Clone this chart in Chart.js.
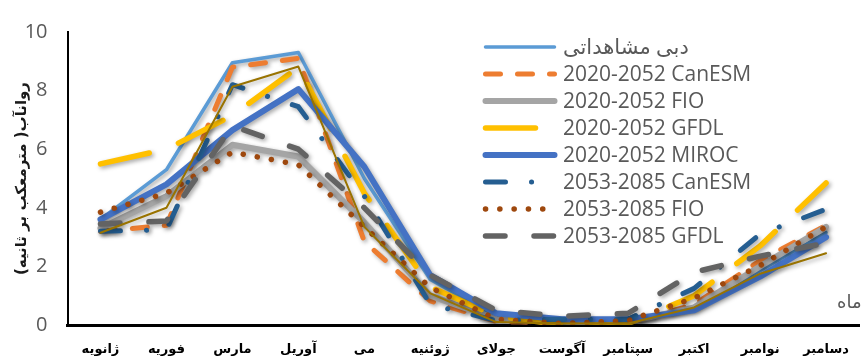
<!DOCTYPE html>
<html><head><meta charset="utf-8">
<script src="https://cdn.jsdelivr.net/npm/chart.js@4"></script>
<style>html,body{margin:0;padding:0;overflow:hidden;background:#fff}#wrap{width:866px;height:360px;position:relative}</style>
</head><body><div id="wrap"><canvas id="c"></canvas></div>
<script>
const months = ['ژانویه','فوریه','مارس','آوریل','می','ژوئنیه','جولای','آگوست','سپتامبر','اکتبر','نوامبر','دسامبر'];
const seriesNames = ['دبی مشاهداتی','2020-2052 CanESM','2020-2052 FIO','2020-2052 GFDL','2020-2052 MIROC','2053-2085 CanESM','2053-2085 FIO','2053-2085 GFDL','2053-2085 MIROC'];
const observed   = [3.6, 5.3, 8.95, 9.3, 5.0, 1.55, 0.3, 0.15, 0.15, 0.6, 1.85, 3.15];
const canesm2020 = [3.2, 3.4, 8.8, 9.1, 2.85, 0.82, 0.12, 0.05, 0.05, 0.7, 2.2, 3.4];
const fio2020    = [3.3, 4.4, 6.15, 5.75, 3.5, 1.0, 0.2, 0.1, 0.1, 0.6, 2.0, 3.35];
const gfdl2020   = [5.5, 6.0, 7.15, 8.8, 4.5, 1.3, 0.3, 0.0, 0.05, 1.0, 2.7, 4.85];
const miroc2020  = [3.6, 4.8, 6.65, 8.05, 5.4, 1.7, 0.4, 0.2, 0.2, 0.5, 1.65, 3.0];
const canesm2053 = [3.2, 3.25, 8.2, 7.45, 4.4, 0.7, 0.15, 0.2, 0.2, 1.25, 3.1, 3.95];
const fio2053    = [3.85, 4.5, 5.9, 5.47, 3.35, 1.28, 0.2, 0.05, 0.15, 0.92, 2.03, 3.35];
const gfdl2053   = [3.45, 3.55, 6.8, 6.0, 4.0, 1.7, 0.5, 0.3, 0.4, 1.8, 2.35, 2.8];
const miroc2053  = [3.15, 4.0, 8.13, 8.82, 3.35, 1.08, 0.1, 0.05, 0.05, 0.6, 1.75, 2.45];
const yMin = 0, yMax = 10, yStep = 2;
const yTitle = 'روانآب( مترمعکب بر ثانیه)';
const xTitle = 'ماه';

const allSeries = [observed, canesm2020, fio2020, gfdl2020, miroc2020, canesm2053, fio2053, gfdl2053, miroc2053];
const styles = [
  {c:'#5B9BD5', w:3.5, d:[]},
  {c:'#ED7D31', w:5,   d:[15,17]},
  {c:'#A5A5A5', w:6,   d:[]},
  {c:'#FFC000', w:5.5, d:[50,31]},
  {c:'#4472C4', w:6,   d:[]},
  {c:'#255E91', w:5,   d:[20,26,0.1,26]},
  {c:'#9E480E', w:5.5, d:[0.1,14.2]},
  {c:'#636363', w:5.5, d:[19.5,29]},
  {c:'#997300', w:2,   d:[]}
];
const LEGEND_COUNT = 8;

const datasets = allSeries.map((data, i) => ({
  label: seriesNames[i],
  data: data,
  borderColor: styles[i].c,
  backgroundColor: styles[i].c,
  borderWidth: styles[i].w,
  borderDash: styles[i].d,
  borderCapStyle: 'round',
  borderJoinStyle: 'round',
  pointRadius: 0,
  pointHoverRadius: 0,
  tension: 0,
  fill: false,
  order: -i
}));

const shadowPlugin = {
  id: 'shadow',
  beforeDatasetDraw(chart) {
    const ctx = chart.ctx;
    ctx.save();
    ctx.shadowColor = 'rgba(0,0,0,0.35)';
    ctx.shadowBlur = 4;
    ctx.shadowOffsetX = 2;
    ctx.shadowOffsetY = 2;
  },
  afterDatasetDraw(chart) { chart.ctx.restore(); }
};

const legendPlugin = {
  id: 'customLegend',
  afterDraw(chart) {
    const ctx = chart.ctx;
    const x0 = 485.5, x1 = 554.5, tx = 563, y0 = 47, dy = 27;
    chart.data.datasets.forEach((ds, i) => {
      if (i >= LEGEND_COUNT) return;
      const y = y0 + i * dy;
      ctx.save();
      ctx.strokeStyle = ds.borderColor;
      ctx.lineWidth = ds.borderWidth;
      ctx.lineCap = 'round';
      ctx.setLineDash(ds.borderDash || []);
      ctx.beginPath(); ctx.moveTo(x0, y); ctx.lineTo(x1, y); ctx.stroke();
      ctx.restore();
      ctx.save();
      ctx.fillStyle = '#595959';
      ctx.font = '21px "Open Sans", "DejaVu Sans", sans-serif';
      ctx.textBaseline = 'middle';
      ctx.textAlign = 'left';
      ctx.fillText(ds.label, tx, y + 1);
      ctx.restore();
    });
    // x axis title
    const a = chart.chartArea;
    ctx.save();
    ctx.fillStyle = '#595959';
    ctx.font = '18px "DejaVu Sans", sans-serif';
    ctx.textBaseline = 'middle';
    ctx.textAlign = 'left';
    ctx.fillText(xTitle, a.right - 22, a.bottom - 22);
    ctx.restore();
  }
};

new Chart(document.getElementById('c'), {
  type: 'line',
  data: { labels: months, datasets: datasets },
  options: {
    responsive: true,
    maintainAspectRatio: false,
    animation: false,
    events: [],
    layout: { padding: { top: 20, right: 1, left: 0, bottom: 0 } },
    plugins: { legend: { display: false }, tooltip: { enabled: false } },
    scales: {
      x: {
        offset: true,
        grid: { display: false, drawTicks: false },
        border: { display: true, color: '#000', width: 3 },
        ticks: { color: '#000', padding: 17, maxRotation: 0, autoSkip: false,
          font: { family: '"DejaVu Sans", sans-serif', size: 13, weight: 'bold' } },
        afterFit: s => { s.height = 35; }
      },
      y: {
        min: yMin, max: yMax,
        grid: { display: false, drawTicks: false },
        border: { display: true, color: '#000', width: 2 },
        ticks: { stepSize: yStep, color: '#595959', padding: 20,
          font: { family: '"Open Sans", "DejaVu Sans", sans-serif', size: 20 } },
        title: { display: true, text: yTitle, color: '#1a1a1a', padding: { top: 13, bottom: 0 },
          font: { family: '"DejaVu Sans", sans-serif', size: 15, weight: 'bold' } },
        afterFit: s => { s.width = 67.5; }
      }
    }
  },
  plugins: [shadowPlugin, legendPlugin]
});
</script>
</body></html>
